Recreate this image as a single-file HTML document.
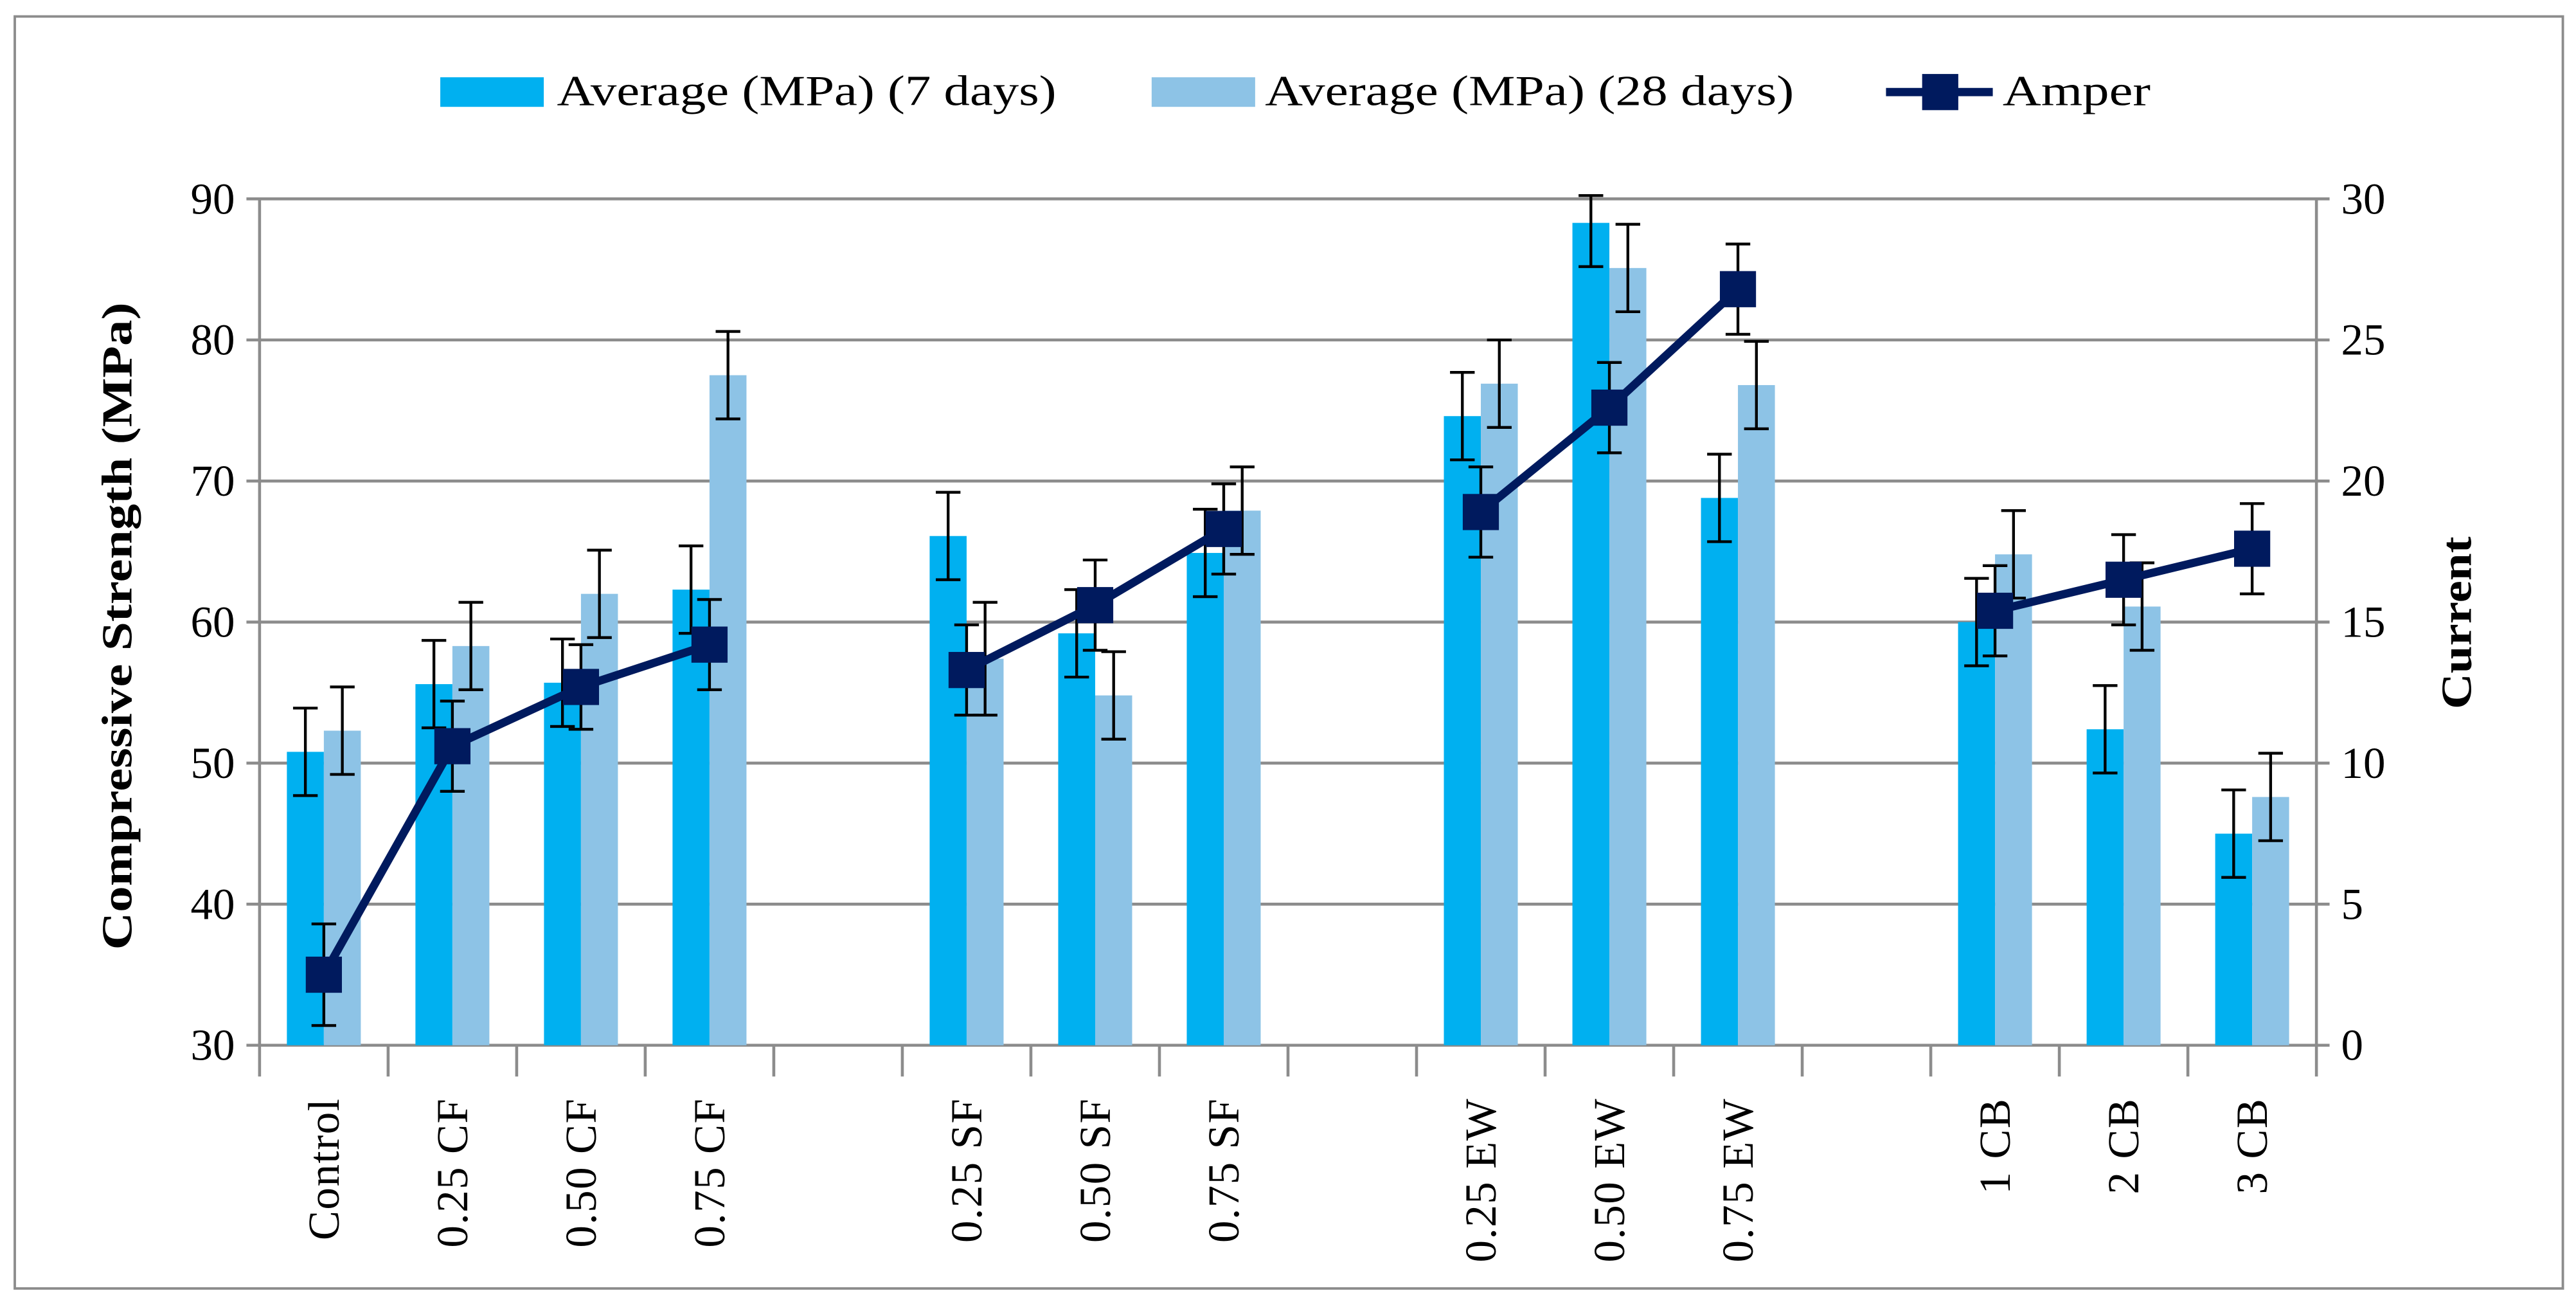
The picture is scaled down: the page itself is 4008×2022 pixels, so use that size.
<!DOCTYPE html>
<html><head><meta charset="utf-8"><style>html,body{margin:0;padding:0;background:#fff}svg{display:block}svg text{font-family:"Liberation Serif",serif}</style></head>
<body>
<svg id="chart" width="4008" height="2022" viewBox="0 0 1568 791" font-family="Liberation Serif, serif" xmlns="http://www.w3.org/2000/svg">
<rect x="9" y="10" width="1551" height="774" fill="#fff" stroke="#8c8c8c" stroke-width="1.5"/>
<g id="grid"></g><g id="bars"></g><g id="line"></g><g id="axes" font-family="Liberation Serif, serif"></g>
<g font-family="Liberation Serif, serif">
<rect x="268" y="47" width="63" height="18" fill="#00b0f0"/>
<text x="339" y="64" font-size="26" textLength="304" lengthAdjust="spacingAndGlyphs">Average (MPa) (7 days)</text>
<rect x="701" y="47" width="63" height="18" fill="#8dc3e6"/>
<text x="770" y="64" font-size="26" textLength="322" lengthAdjust="spacingAndGlyphs">Average (MPa) (28 days)</text>
<line x1="1148" y1="56" x2="1213" y2="56" stroke="#001a5e" stroke-width="5"/>
<rect x="1170" y="45" width="22" height="22" fill="#001a5e"/>
<text x="1219" y="64" font-size="26" textLength="90" lengthAdjust="spacingAndGlyphs">Amper</text>
</g>
<text font-family="Liberation Serif, serif" transform="translate(80,381) rotate(-90)" text-anchor="middle" font-size="26" font-weight="bold" textLength="394" lengthAdjust="spacingAndGlyphs">Compressive Strength (MPa)</text>
<text font-family="Liberation Serif, serif" transform="translate(1504,379) rotate(-90)" text-anchor="middle" font-size="26" font-weight="bold" textLength="105" lengthAdjust="spacingAndGlyphs">Current</text>
</svg>
<script>
const slots = ["Control","0.25 CF","0.50 CF","0.75 CF","","0.25 SF","0.50 SF","0.75 SF","","0.25 EW","0.50 EW","0.75 EW","","1 CB","2 CB","3 CB"];
const categories = ["Control","0.25 CF","0.50 CF","0.75 CF","0.25 SF","0.50 SF","0.75 SF","0.25 EW","0.50 EW","0.75 EW","1 CB","2 CB","3 CB"];
const strength7 = [50.8,55.6,55.7,62.3,66.1,59.2,64.9,74.6,88.3,68.8,60.0,52.4,45.0];
const err7 = [3.1,3.1,3.1,3.1,3.1,3.1,3.1,3.1,3.1,3.1,3.1,3.1,3.1];
const strength28 = [52.3,58.3,62.0,77.5,57.4,54.8,67.9,76.9,85.1,76.8,64.8,61.1,47.6];
const err28 = [3.1,3.1,3.1,3.1,4.0,3.1,3.1,3.1,3.1,3.1,3.1,3.1,3.1];
const amper = [2.5,10.6,12.7,14.2,13.3,15.6,18.3,18.9,22.6,26.8,15.4,16.5,17.6];
const amperErr = [1.8,1.6,1.5,1.6,1.6,1.6,1.6,1.6,1.6,1.6,1.6,1.6,1.6];
const leftTicks = [30,40,50,60,70,80,90];
const rightTicks = [0,5,10,15,20,25,30];

const NS="http://www.w3.org/2000/svg";
const X0=158,X1=1410,Y0=636,Y1=121;
const slotW=(X1-X0)/slots.length;
const yL=v=>Y0-(v-30)/60*(Y0-Y1);
const yR=v=>Y0-v/30*(Y0-Y1);
const cx=name=>X0+slotW*(slots.indexOf(name)+0.5);
function mk(p,tag,a){const e=document.createElementNS(NS,tag);for(const k in a)e.setAttribute(k,a[k]);p.appendChild(e);return e;}
const grid=document.getElementById('grid'),bars=document.getElementById('bars'),line=document.getElementById('line'),axes=document.getElementById('axes');
const FF='Liberation Serif, serif';
leftTicks.forEach((t,i)=>{
  const y=yL(t);
  const g=mk(grid,'line',{x1:X0-8,x2:X1+8,y1:y,y2:y,stroke:'#8c8c8c','stroke-width':1.8});
  
  
  const tl=mk(axes,'text',{x:X0-15,y:y+9,'text-anchor':'end','font-size':27,'font-family':FF});
  tl.textContent=t;
  
  
  const tr=mk(axes,'text',{x:X1+15,y:yR(rightTicks[i])+9,'font-size':27,'font-family':FF});
  tr.textContent=rightTicks[i];
  
  
});
let a=mk(axes,'line',{x1:X0,x2:X0,y1:Y1,y2:Y0+19,stroke:'#8c8c8c','stroke-width':1.8});


a=mk(axes,'line',{x1:X1,x2:X1,y1:Y1,y2:Y0+19,stroke:'#8c8c8c','stroke-width':1.8});


for(let i=1;i<slots.length;i++){
  const x=X0+slotW*i;
  const t=mk(axes,'line',{x1:x,x2:x,y1:Y0,y2:Y0+19,stroke:'#8c8c8c','stroke-width':1.8});
  
  
}
const bw=22.5;
function errBar(x,v,e,yf){
  const top=Math.max(yf(v+e),Y1-2);
  const g=mk(bars,'path',{d:`M${x-7.5},${top}H${x+7.5}M${x},${top}V${yf(v-e)}M${x-7.5},${yf(v-e)}H${x+7.5}`,stroke:'#000','stroke-width':1.7,fill:'none'});
  
  
}
categories.forEach((c,i)=>{
  const x=cx(c);
  const b1=mk(bars,'rect',{x:x-bw,y:yL(strength7[i]),width:bw,height:Y0-yL(strength7[i]),fill:'#00b0f0'});
  
  
  const b2=mk(bars,'rect',{x:x,y:yL(strength28[i]),width:bw,height:Y0-yL(strength28[i]),fill:'#8dc3e6'});
  
  
  const xl=mk(axes,'text',{transform:`translate(${x+9},${Y0+32}) rotate(-90)`,'text-anchor':'end','font-size':27,'font-family':FF,'letter-spacing':'0.6'});
  xl.textContent=c;
  
  
});
categories.forEach((c,i)=>{const x=cx(c);errBar(x-bw/2,strength7[i],err7[i],yL);errBar(x+bw/2,strength28[i],err28[i],yL);});
const groups=[[0,4],[4,7],[7,10],[10,13]];
groups.forEach(([s,e])=>{
  let d='';
  for(let i=s;i<e;i++)d+=(i===s?'M':'L')+cx(categories[i])+','+yR(amper[i]);
  const p=mk(line,'path',{d:d,stroke:'#001a5e','stroke-width':5,fill:'none'});
  
  
});
categories.forEach((c,i)=>{
  const x=cx(c),y=yR(amper[i]);
  const g=mk(line,'path',{d:`M${x-7.5},${yR(amper[i]+amperErr[i])}H${x+7.5}M${x},${yR(amper[i]+amperErr[i])}V${yR(amper[i]-amperErr[i])}M${x-7.5},${yR(amper[i]-amperErr[i])}H${x+7.5}`,stroke:'#000','stroke-width':1.7,fill:'none'});
  
  
  const m=mk(line,'rect',{x:x-11,y:y-11,width:22,height:22,fill:'#001a5e'});
  
  
});
</script>
</body></html>
